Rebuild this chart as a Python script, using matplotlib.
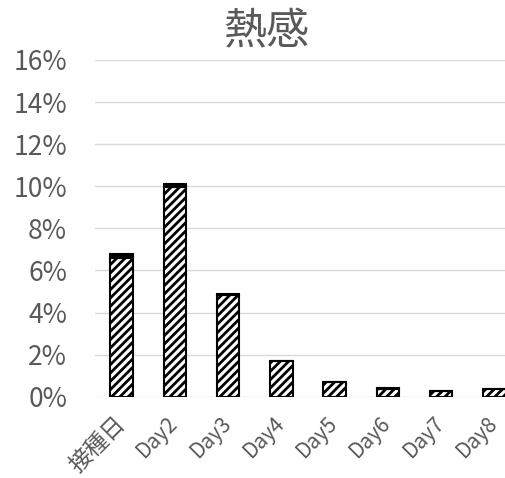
import matplotlib.pyplot as plt
import numpy as np

plt.rcParams['font.family'] = ['Noto Sans CJK JP', 'DejaVu Sans']
plt.rcParams['hatch.linewidth'] = 2.0

categories = ['接種日', 'Day2', 'Day3', 'Day4', 'Day5', 'Day6', 'Day7', 'Day8']
hatched = [6.6, 9.95, 4.85, 1.7, 0.7, 0.38, 0.27, 0.37]
top_band = [0.17, 0.15, 0.03, 0.02, 0.01, 0.01, 0.0, 0.0]
yticks = [0, 2, 4, 6, 8, 10, 12, 14, 16]

grey = '#595959'

fig = plt.figure(figsize=(5.06, 4.78), dpi=100)
ax = fig.add_axes([95/506, 1-396.7/478, 426/506, (396.7-60)/478])

x = np.arange(len(categories))
ax.bar(x, hatched, width=0.42, color='white', edgecolor='black',
       hatch='////', linewidth=1.5, zorder=3)
ax.bar(x, top_band, width=0.42, bottom=hatched, color='black',
       edgecolor='black', linewidth=1.5, zorder=3)

ax.set_xlim(-0.5, len(categories) - 0.5)
ax.set_ylim(0, 16)
ax.set_yticks(yticks)
ax.set_yticklabels([f'{v}%' for v in yticks], fontsize=19, color=grey)
ax.yaxis.grid(True, color='#d9d9d9', linewidth=1.0, zorder=0)
ax.set_axisbelow(True)

ax.set_xticks(x)
ax.set_xticklabels(categories, fontsize=15, color=grey, rotation=45,
                   ha='right', va='center', rotation_mode='anchor')
ax.get_xticklabels()[0].set_fontsize(16.5)
ax.tick_params(axis='both', length=0)
ax.tick_params(axis='y', pad=20)
ax.tick_params(axis='x', pad=17)

for s in ax.spines.values():
    s.set_visible(False)

fig.text(266/506, 1-32/478, '熱感', fontsize=31, color=grey,
         ha='center', va='center')

fig.savefig('out.png', dpi=100)
